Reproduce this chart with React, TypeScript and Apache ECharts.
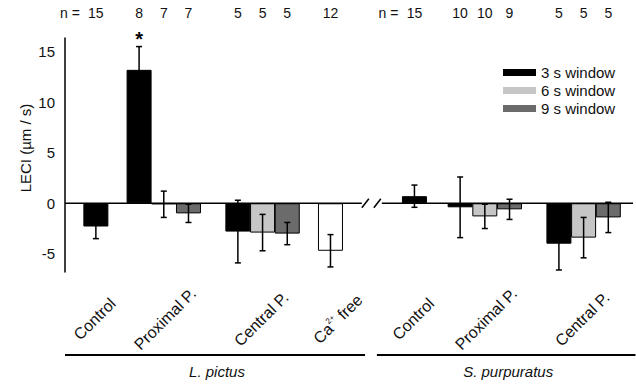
import React, { useEffect, useRef } from "react";
import * as echarts from "echarts";

// ---- data ----
const windows = ["3 s window", "6 s window", "9 s window"];
// slot = horizontal position of each bar on the (hidden) x value axis
const slots3 = [1.25, 3, 7, 14.15, 16, 20];
const values3 = [-2.3, 13.2, -2.8, 0.7, -0.4, -4.0];
const errors3 = [1.2, 2.3, 3.1, 1.1, 3.0, 2.6];
const n3 = [15, 8, 5, 15, 10, 5];
const significant3 = [false, true, false, false, false, false];

const slots6 = [4, 8, 17, 21];
const values6 = [-0.1, -2.9, -1.3, -3.4];
const errors6 = [1.3, 1.8, 1.2, 2.0];
const n6 = [7, 5, 10, 5];

const slots9 = [5, 9, 18, 22];
const values9 = [-1.0, -3.0, -0.6, -1.4];
const errors9 = [0.9, 1.1, 1.0, 1.5];
const n9 = [7, 5, 9, 5];

const caSlots = [10.75];
const caValues = [-4.7];
const caErrors = [1.6];
const caN = [12];

const groupLabels = ["Control", "Proximal P.", "Central P.", "Ca{sup|2+} free", "Control", "Proximal P.", "Central P."];
const groupLabelSlots = [1.2, 4.05, 7.95, 11.05, 14.1, 17.05, 20.95];
const species = ["L. pictus", "S. purpuratus"];
const speciesSpans = [[0, 12.15], [12.63, 23.1]];
const nPrefixSlots = [1.25, 14.15];
const yTicks = [-5, 0, 5, 10, 15];
const yMin = -6.8;
const yMax = 16.35;
const xMax = 23;

const FONT = "'Liberation Sans', Arial, sans-serif";
const INK = "#111";

export default function App() {
  const ref = useRef<HTMLDivElement>(null);
  useEffect(() => {
    if (!ref.current) return;
    const chart = echarts.init(ref.current, undefined, { renderer: "svg" });

    const errData: any[] = [];
    slots3.forEach((s, i) => errData.push([s, values3[i], errors3[i], n3[i], significant3[i] ? 1 : 0]));
    slots6.forEach((s, i) => errData.push([s, values6[i], errors6[i], n6[i], 0]));
    slots9.forEach((s, i) => errData.push([s, values9[i], errors9[i], n9[i], 0]));
    caSlots.forEach((s, i) => errData.push([s, caValues[i], caErrors[i], caN[i], 0]));

    const barBase = {
      type: "bar",
      barWidth: 25,
      barGap: "-100%",
      itemStyle: { borderColor: "#000", borderWidth: 1 },
      emphasis: { disabled: true },
      z: 2,
    };

    const option: any = {
      animation: false,
      textStyle: { fontFamily: FONT },
      grid: { left: 65, right: 3, top: 38, bottom: 112, containLabel: false },
      legend: {
        data: windows,
        orient: "vertical",
        left: 498,
        top: 60,
        itemWidth: 33,
        itemHeight: 7,
        itemGap: 3,
        icon: "rect",
        selectedMode: false,
        itemStyle: { borderWidth: 0 },
        textStyle: { fontSize: 15, color: INK, fontFamily: FONT, padding: [0, 0, 0, 0] },
      },
      xAxis: {
        type: "value",
        min: 0,
        max: xMax,
        show: false,
      },
      yAxis: {
        type: "value",
        min: yMin,
        max: yMax,
        axisLine: { show: true, lineStyle: { color: "#000", width: 1.5 } },
        axisTick: { show: false },
        splitLine: { show: false },
        axisLabel: { customValues: yTicks, fontSize: 15, color: INK, margin: 10, fontFamily: FONT },
      },
      graphic: [
        {
          type: "text",
          x: 25,
          y: 148,
          rotation: Math.PI / 2,
          style: { text: "LECI (µm / s)", font: `15px ${FONT}`, fill: INK, align: "center", verticalAlign: "middle" },
        },
      ],
      series: [
        {
          ...barBase,
          name: windows[0],
          itemStyle: { ...barBase.itemStyle, color: "#000" },
          data: slots3.map((s, i) => [s, values3[i]]),
        },
        {
          ...barBase,
          name: windows[1],
          itemStyle: { ...barBase.itemStyle, color: "#c6c6c6" },
          data: slots6.map((s, i) => [s, values6[i]]),
        },
        {
          ...barBase,
          name: windows[2],
          itemStyle: { ...barBase.itemStyle, color: "#6b6b6b" },
          data: slots9.map((s, i) => [s, values9[i]]),
        },
        {
          ...barBase,
          name: "Ca2+ free",
          itemStyle: { ...barBase.itemStyle, color: "#fff" },
          data: caSlots.map((s, i) => [s, caValues[i]]),
        },
        // baseline, break marks, labels
        {
          type: "custom",
          name: "overlay",
          data: [[0, 0]],
          encode: { x: 0, y: 1 },
          z: 3,
          silent: true,
          renderItem: (_p: any, api: any) => {
            const y0 = api.coord([0, 0])[1];
            const px = (s: number) => api.coord([s, 0])[0];
            const lineStyle = { stroke: "#000", lineWidth: 1.5 };
            const children: any[] = [];
            // zero line with break
            const breakL = px(12.02);
            const breakR = px(12.83);
            children.push({ type: "line", shape: { x1: px(0), y1: y0, x2: breakL, y2: y0 }, style: lineStyle });
            children.push({ type: "line", shape: { x1: breakR, y1: y0, x2: px(xMax), y2: y0 }, style: lineStyle });
            children.push({ type: "line", shape: { x1: breakL, y1: y0 + 4.5, x2: breakL + 7, y2: y0 - 4.5 }, style: lineStyle });
            children.push({ type: "line", shape: { x1: breakR - 8, y1: y0 + 4.5, x2: breakR - 1, y2: y0 - 4.5 }, style: lineStyle });
            // n = prefixes
            nPrefixSlots.forEach((s) => {
              children.push({
                type: "text",
                style: { x: px(s) - 16, y: 13, text: "n =", font: `14px ${FONT}`, fill: INK, align: "right", verticalAlign: "middle" },
              });
            });
            // category labels
            groupLabels.forEach((lab, i) => {
              children.push({
                type: "text",
                x: px(groupLabelSlots[i]),
                y: 319,
                rotation: Math.PI / 4,
                style: {
                  x: 0,
                  y: 0,
                  text: lab,
                  font: `16px ${FONT}`,
                  fill: INK,
                  align: "center",
                  verticalAlign: "middle",
                  rich: { sup: { fontSize: 8, fill: INK, padding: [0, 0, 10, 0], fontFamily: FONT } },
                },
              });
            });
            // species lines and names
            species.forEach((sp, i) => {
              const [a, b] = speciesSpans[i];
              children.push({ type: "line", shape: { x1: px(a), y1: 355, x2: px(b), y2: 355 }, style: { stroke: "#000", lineWidth: 2 } });
              children.push({
                type: "text",
                style: { x: (px(a) + px(b)) / 2 + 2, y: 371, text: sp, font: `italic 15px ${FONT}`, fill: INK, align: "center", verticalAlign: "middle" },
              });
            });
            return { type: "group", children };
          },
        },
        // error bars, n labels, asterisk
        {
          type: "custom",
          name: "errors",
          data: errData,
          encode: { x: 0, y: 1 },
          z: 4,
          silent: true,
          renderItem: (_p: any, api: any) => {
            const x = api.value(0);
            const v = api.value(1);
            const e = api.value(2);
            const n = api.value(3);
            const sig = api.value(4);
            const top = api.coord([x, v + e]);
            const bot = api.coord([x, v - e]);
            const cw = 3;
            const st = { stroke: "#000", lineWidth: 1.5 };
            const children: any[] = [
              { type: "line", shape: { x1: top[0], y1: top[1], x2: bot[0], y2: bot[1] }, style: st },
              { type: "line", shape: { x1: top[0] - cw, y1: top[1], x2: top[0] + cw, y2: top[1] }, style: st },
              { type: "line", shape: { x1: bot[0] - cw, y1: bot[1], x2: bot[0] + cw, y2: bot[1] }, style: st },
              {
                type: "text",
                style: { x: top[0], y: 13, text: String(n), font: `14px ${FONT}`, fill: INK, align: "center", verticalAlign: "middle" },
              },
            ];
            if (sig) {
              children.push({
                type: "text",
                style: { x: top[0], y: top[1] - 8, text: "*", font: `bold 20px ${FONT}`, fill: "#000", align: "center", verticalAlign: "middle" },
              });
            }
            return { type: "group", children };
          },
        },
      ],
    };
    chart.setOption(option);
    return () => chart.dispose();
  }, []);
  return <div ref={ref} style={{ width: 636, height: 384, position: "absolute", left: 0, top: 0, background: "#fff" }} />;
}
